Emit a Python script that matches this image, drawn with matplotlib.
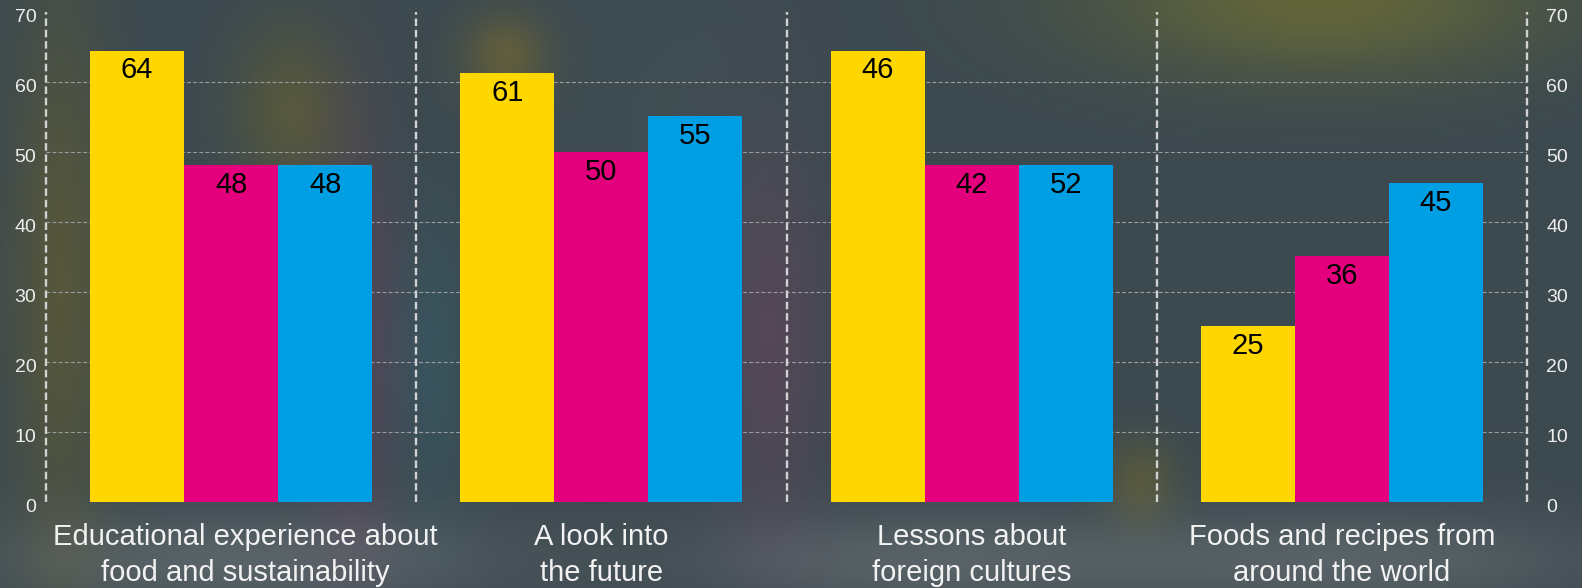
import numpy as np
import matplotlib
matplotlib.use("Agg")
import matplotlib.pyplot as plt
import matplotlib.transforms as mtrans

# chart data
categories = ["Educational experience about\nfood and sustainability",
              "A look into\nthe future",
              "Lessons about\nforeign cultures",
              "Foods and recipes from\naround the world"]
yellow_vals = [64.5, 61.3, 64.5, 25.2]
magenta_vals = [48.2, 50.0, 48.2, 35.1]
blue_vals = [48.2, 55.2, 48.2, 45.6]
yellow_labels = ["64", "61", "46", "25"]
magenta_labels = ["48", "50", "42", "36"]
blue_labels = ["48", "55", "52", "45"]
y_ticks = [0, 10, 20, 30, 40, 50, 60, 70]

W, H = 1582, 588
plt.rcParams['font.family'] = ['Liberation Sans', 'DejaVu Sans']

fig = plt.figure(figsize=(W / 100, H / 100), dpi=100)

# blurred-photo style background
bg_ax = fig.add_axes([0, 0, 1, 1], zorder=-10)
yy, xx = np.mgrid[0:H, 0:W]
base = np.array([60, 73, 79], dtype=float)
img = np.ones((H, W, 3)) * base
blobs = [
    (1320, 0, 160, 55, (98, 102, 58), 1.0),
    (60, 280, 35, 200, (88, 88, 58), 0.9),
    (290, 110, 40, 60, (92, 92, 58), 0.8),
    (355, 340, 30, 150, (88, 68, 88), 0.8),
    (505, 55, 30, 30, (105, 98, 55), 0.8),
    (430, 360, 30, 100, (55, 88, 98), 0.7),
    (770, 340, 40, 130, (90, 70, 90), 0.8),
    (1140, 480, 25, 30, (92, 92, 58), 0.8),
    (245, 560, 180, 35, (92, 102, 107), 0.9),
    (930, 560, 170, 35, (90, 100, 105), 0.9),
    (1360, 560, 170, 35, (90, 100, 105), 0.9),
    (680, 120, 80, 120, (66, 80, 84), 0.6),
]
for cx, cy, sx, sy, col, s in blobs:
    w = s * np.exp(-(((xx - cx) / sx) ** 2 + ((yy - cy) / sy) ** 2) / 2)
    img += w[..., None] * (np.array(col, dtype=float) - base)
img = np.clip(img, 0, 255) / 255
bg_ax.imshow(img, aspect='auto', extent=[0, 1, 0, 1])
bg_ax.set_axis_off()

ax = fig.add_axes([46 / W, 1 - 502 / H, (1527 - 46) / W, (502 - 12) / H])
ax.patch.set_alpha(0)
ax.set_xlim(-0.5, 3.5)
ax.set_ylim(0, 70)

x = np.arange(len(categories))
bw = 0.254
series = [(yellow_vals, yellow_labels, "#FFD700", -1),
          (magenta_vals, magenta_labels, "#E4007C", 0),
          (blue_vals, blue_labels, "#009FE3", 1)]
for vals, labs, col, k in series:
    bars = ax.bar(x + k * bw, vals, width=bw, color=col, zorder=3)
    for b, lab in zip(bars, labs):
        ax.text(b.get_x() + b.get_width() / 2, b.get_height() - 2.85, lab,
                ha='center', va='center', fontsize=21, color='black', zorder=4)

# horizontal dashed gridlines
for t in y_ticks[:-1]:
    ax.axhline(t, color='#9a9c9d', lw=0.8, ls=(0, (3.5, 2)), zorder=1)
# vertical group separators
for sep in np.arange(-0.5, 4.0, 1.0):
    ax.axvline(sep, color='#d2d2d2', lw=1.7, ls=(0, (3.2, 1.6)), zorder=2,
               clip_on=False)

shift = mtrans.ScaledTranslation(0, -4 / 100, fig.dpi_scale_trans)
for s in ax.spines.values():
    s.set_visible(False)
ax.set_yticks(y_ticks)
ax.tick_params(axis='y', length=0, pad=7, labelsize=14, labelcolor='#eeeeee')
ax.set_xticks([])
for lbl in ax.get_yticklabels():
    lbl.set_transform(lbl.get_transform() + shift)

ax2 = ax.twinx()
ax2.set_ylim(0, 70)
ax2.set_yticks(y_ticks)
for s in ax2.spines.values():
    s.set_visible(False)
ax2.tick_params(axis='y', length=0, pad=14, labelsize=14, labelcolor='#eeeeee')
for lbl in ax2.get_yticklabels():
    lbl.set_ha('left')
    lbl.set_transform(lbl.get_transform() + shift)

# first label sits a little right of its group centre in the original
label_dx = [0.038, 0, 0, 0]
for xi, cat, dx in zip(x, categories, label_dx):
    ax.text(xi + dx, -3.0, cat, ha='center', va='top', fontsize=21,
            color='#f2f2f2', linespacing=1.37, clip_on=False)

fig.savefig("out.png", dpi=100)
